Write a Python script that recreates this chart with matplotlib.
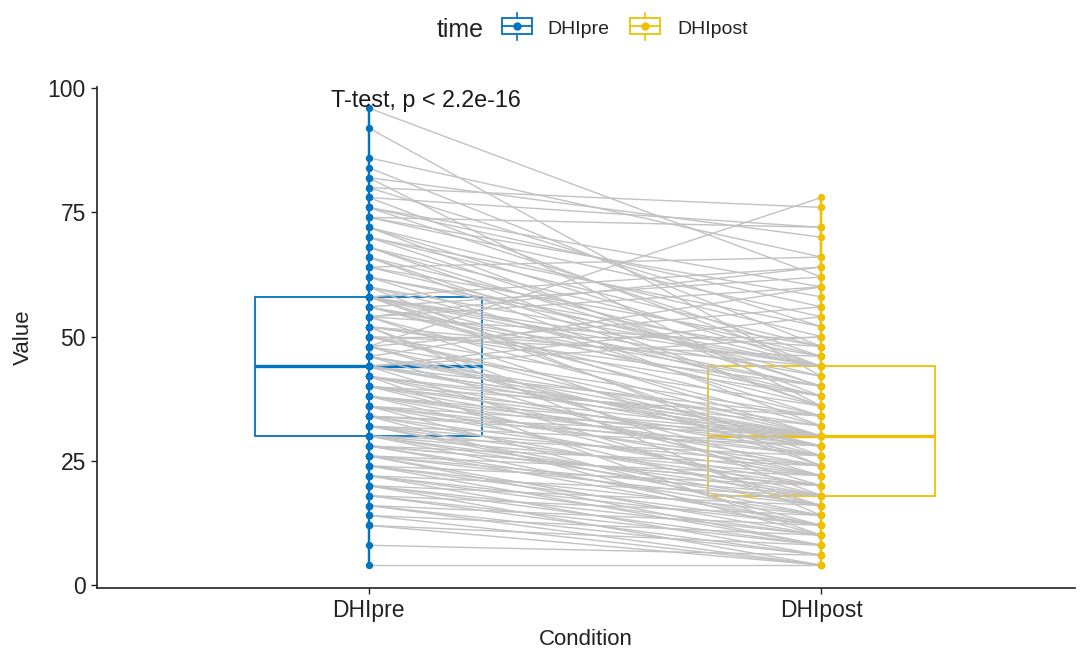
import matplotlib.pyplot as plt
from matplotlib.patches import Rectangle
from matplotlib.lines import Line2D

plt.rcParams['font.family'] = ['Liberation Sans', 'DejaVu Sans']

# data: one pre/post pair per subject
conditions = ['DHIpre', 'DHIpost']
legend_title = 'time'
test_label = 'T-test, p < 2.2e-16'

dhi_pre = [
    4, 8, 12, 12, 14, 14, 16, 16, 16, 18,
    18, 18, 20, 20, 20, 20, 22, 22, 22, 22,
    24, 24, 24, 24, 26, 26, 26, 26, 26, 28,
    28, 28, 28, 28, 30, 30, 30, 30, 30, 32,
    32, 32, 32, 32, 34, 34, 34, 34, 34, 36,
    36, 36, 36, 36, 38, 38, 38, 38, 38, 40,
    40, 40, 40, 40, 42, 42, 42, 42, 42, 44,
    44, 44, 44, 44, 44, 44, 46, 46, 46, 46,
    46, 48, 48, 48, 48, 48, 50, 50, 50, 50,
    50, 52, 52, 52, 52, 52, 54, 54, 54, 54,
    54, 56, 56, 56, 56, 56, 58, 58, 58, 58,
    58, 58, 58, 60, 60, 60, 62, 62, 62, 64,
    64, 64, 66, 66, 66, 68, 68, 68, 70, 70,
    70, 72, 72, 72, 74, 74, 74, 76, 76, 76,
    78, 78, 80, 80, 82, 82, 84, 86, 92, 96,
]
dhi_post = [
    4, 6, 4, 8, 4, 10, 6, 4, 12, 8,
    6, 14, 4, 10, 16, 8, 12, 6, 18, 10,
    14, 8, 20, 12, 10, 16, 22, 8, 18, 12,
    24, 14, 20, 20, 16, 26, 12, 22, 18, 28,
    14, 20, 24, 16, 30, 10, 22, 28, 18, 26,
    30, 12, 20, 24, 28, 16, 30, 22, 26, 34,
    30, 18, 24, 28, 32, 10, 30, 26, 22, 34,
    30, 16, 28, 54, 50, 30, 32, 20, 60, 28,
    30, 34, 78, 26, 56, 22, 36, 30, 46, 50,
    28, 38, 14, 44, 18, 40, 30, 60, 48, 24,
    64, 38, 32, 62, 34, 40, 44, 30, 36, 64,
    42, 40, 26, 44, 24, 38, 46, 34, 44, 48,
    66, 42, 32, 36, 44, 36, 46, 40, 40, 48,
    52, 38, 44, 50, 58, 72, 54, 46, 56, 60,
    44, 72, 52, 76, 36, 70, 48, 66, 42, 62,
]
colors = ['#0073C2', '#EFC000']

fig = plt.figure(figsize=(10.81, 6.51), dpi=100)
ax = fig.add_axes([0.0897, 0.0968, 0.9048, 0.770])

# boxplots underneath
bp = ax.boxplot([dhi_pre, dhi_post], positions=[0, 1], widths=0.5,
                patch_artist=True, showfliers=False, showcaps=False,
                whis=1.5, zorder=1)
for i, c in enumerate(colors):
    bp['boxes'][i].set(facecolor='white', edgecolor=c, linewidth=1.3)
    bp['medians'][i].set(color=c, linewidth=2.4)
    for w in bp['whiskers'][2 * i:2 * i + 2]:
        w.set(color=c, linewidth=1.6)

# paired lines
ax.plot([0, 1], [dhi_pre, dhi_post], color='#C2C2C2', linewidth=1.0, zorder=2)

# points
ax.plot([0] * len(dhi_pre), dhi_pre, color=colors[0], linewidth=1.6, zorder=3)
ax.plot([1] * len(dhi_post), dhi_post, color=colors[1], linewidth=1.6, zorder=3)
ax.scatter([0] * len(dhi_pre), dhi_pre, s=28, color=colors[0], zorder=4, linewidths=0)
ax.scatter([1] * len(dhi_post), dhi_post, s=28, color=colors[1], zorder=4, linewidths=0)

ax.text(-0.084, 97.6, test_label, ha='left', va='center', fontsize=16.8, color='#1a1a1a', zorder=5)

ax.set_xlim(-0.6, 1.56)
ax.set_ylim(-0.6, 100.3)
ax.set_xticks([0, 1])
ax.set_xticklabels(conditions)
ax.set_yticks([0, 25, 50, 75, 100])
ax.tick_params(labelsize=16.5, length=4, width=1, color='#222222', labelcolor='#222222', pad=4)
for s in ['top', 'right']:
    ax.spines[s].set_visible(False)
for s in ['left', 'bottom']:
    ax.spines[s].set_linewidth(1.2)
    ax.spines[s].set_color('#222222')
ax.set_xlabel('Condition', fontsize=16, color='#222222', labelpad=5)
ax.set_ylabel('Value', fontsize=16, color='#222222', labelpad=10)

# legend drawn at the top
W, H = 1081.0, 651.0
def fx(px):
    return px / W
def fy(py):
    return 1 - py / H

fig.text(fx(437), fy(30), legend_title, fontsize=18, ha='left', va='center', color='#222222')
for x0, c, lab, tx in [(502, colors[0], conditions[0], 547), (630, colors[1], conditions[1], 677)]:
    fig.add_artist(Line2D([fx(x0 + 15), fx(x0 + 15)], [fy(13), fy(40)], color=c, lw=1.2, transform=fig.transFigure))
    fig.add_artist(Rectangle((fx(x0), fy(34)), 30 / W, 16 / H, facecolor='white', edgecolor=c, lw=1.3, transform=fig.transFigure, zorder=3))
    fig.add_artist(Line2D([fx(x0), fx(x0 + 30)], [fy(26), fy(26)], color=c, lw=1.3, transform=fig.transFigure, zorder=4))
    fig.add_artist(Line2D([fx(x0 + 15)], [fy(26)], marker='o', markersize=5, color=c, transform=fig.transFigure, zorder=5))
    fig.text(fx(tx), fy(30), lab, fontsize=14, ha='left', va='center', color='#222222')

fig.savefig('out.png', dpi=100)
